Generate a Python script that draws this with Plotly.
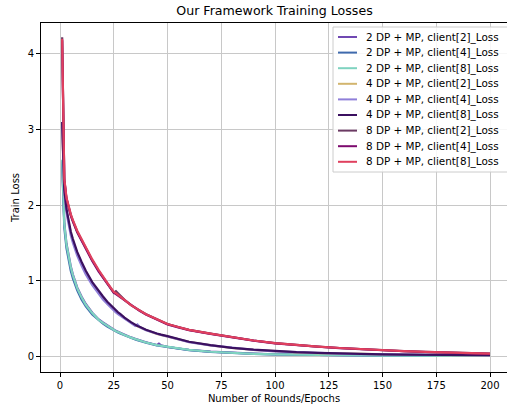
import plotly.graph_objects as go

epochs = [1, 2, 3, 4, 5, 6, 7, 8, 10, 12, 15, 18, 20, 22, 24, 25, 26, 27, 28, 30,
          33, 35, 36, 37, 40, 45, 46, 47, 50, 55, 60, 70, 80, 90, 100, 110, 120,
          130, 140, 150, 160, 170, 180, 190, 200]

series_names = [
    "2 DP + MP, client[2]_Loss", "2 DP + MP, client[4]_Loss", "2 DP + MP, client[8]_Loss",
    "4 DP + MP, client[2]_Loss", "4 DP + MP, client[4]_Loss", "4 DP + MP, client[8]_Loss",
    "8 DP + MP, client[2]_Loss", "8 DP + MP, client[4]_Loss", "8 DP + MP, client[8]_Loss",
]

colors = ["#7048b2", "#3f6aad", "#7fd3c0", "#d2b56e", "#8f7fd9",
          "#3b1060", "#6b3a63", "#7d0a6e", "#e0405e"]

dp2_c2 = [2.58, 1.76, 1.49, 1.33, 1.19, 1.08, 0.99, 0.91, 0.79, 0.69, 0.575, 0.485, 0.445, 0.405, 0.365,
          0.35, 0.335, 0.322, 0.308, 0.282, 0.248, 0.228, 0.218, 0.208, 0.183, 0.146, 0.165, 0.142, 0.122,
          0.101, 0.083, 0.059, 0.043, 0.032, 0.024, 0.019, 0.015, 0.012, 0.010, 0.008, 0.007, 0.006,
          0.005, 0.005, 0.004]
dp2_c4 = [2.55, 1.70, 1.43, 1.27, 1.13, 1.03, 0.94, 0.87, 0.75, 0.66, 0.55, 0.47, 0.43, 0.39, 0.355,
          0.34, 0.326, 0.314, 0.30, 0.275, 0.241, 0.221, 0.212, 0.202, 0.178, 0.143, 0.139, 0.136, 0.118,
          0.098, 0.080, 0.057, 0.041, 0.030, 0.022, 0.017, 0.013, 0.011, 0.009, 0.008, 0.007, 0.006,
          0.005, 0.004, 0.004]
dp2_c8 = [2.60, 1.75, 1.48, 1.32, 1.18, 1.07, 0.98, 0.90, 0.78, 0.68, 0.57, 0.48, 0.44, 0.40, 0.36,
          0.345, 0.33, 0.32, 0.305, 0.28, 0.245, 0.225, 0.215, 0.205, 0.18, 0.145, 0.141, 0.138, 0.12,
          0.10, 0.082, 0.058, 0.042, 0.031, 0.023, 0.018, 0.014, 0.011, 0.009, 0.008, 0.007, 0.006,
          0.005, 0.005, 0.004]

dp4_c2 = [3.05, 2.18, 1.93, 1.76, 1.63, 1.53, 1.44, 1.36, 1.23, 1.11, 0.96, 0.84, 0.77, 0.70, 0.64,
          0.615, 0.59, 0.565, 0.545, 0.50, 0.44, 0.405, 0.395, 0.385, 0.345, 0.295, 0.288, 0.282, 0.262,
          0.222, 0.188, 0.143, 0.108, 0.083, 0.064, 0.051, 0.041, 0.033, 0.027, 0.022, 0.019, 0.016,
          0.014, 0.012, 0.011]
dp4_c4 = [3.08, 2.16, 1.90, 1.73, 1.60, 1.50, 1.41, 1.33, 1.20, 1.08, 0.94, 0.82, 0.75, 0.69, 0.63,
          0.60, 0.58, 0.555, 0.535, 0.49, 0.435, 0.40, 0.42, 0.385, 0.342, 0.292, 0.286, 0.280, 0.260,
          0.220, 0.186, 0.142, 0.107, 0.082, 0.063, 0.050, 0.040, 0.032, 0.026, 0.022, 0.018, 0.016,
          0.014, 0.012, 0.011]
dp4_c8 = [3.10, 2.20, 1.95, 1.78, 1.65, 1.55, 1.46, 1.38, 1.25, 1.13, 0.98, 0.86, 0.79, 0.72, 0.66,
          0.63, 0.61, 0.58, 0.56, 0.51, 0.45, 0.41, 0.40, 0.39, 0.35, 0.30, 0.29, 0.285, 0.265,
          0.225, 0.19, 0.145, 0.11, 0.085, 0.065, 0.052, 0.042, 0.034, 0.028, 0.023, 0.020, 0.017,
          0.015, 0.013, 0.012]

dp8_c2 = [4.22, 2.34, 2.09, 1.97, 1.87, 1.79, 1.71, 1.65, 1.54, 1.43, 1.27, 1.13, 1.05, 0.97, 0.89,
          0.84, 0.86, 0.83, 0.80, 0.745, 0.675, 0.635, 0.62, 0.605, 0.555, 0.485, 0.475, 0.465, 0.425,
          0.385, 0.348, 0.297, 0.247, 0.207, 0.172, 0.147, 0.126, 0.108, 0.092, 0.078, 0.066, 0.056,
          0.047, 0.039, 0.032]
dp8_c4 = [4.18, 2.33, 2.08, 1.96, 1.86, 1.78, 1.70, 1.64, 1.53, 1.42, 1.26, 1.12, 1.04, 0.96, 0.88,
          0.84, 0.82, 0.80, 0.78, 0.74, 0.67, 0.63, 0.615, 0.60, 0.55, 0.48, 0.47, 0.46, 0.42,
          0.38, 0.345, 0.295, 0.245, 0.205, 0.17, 0.145, 0.124, 0.106, 0.09, 0.077, 0.065, 0.055,
          0.046, 0.038, 0.031]
dp8_c8 = [4.20, 2.35, 2.10, 1.98, 1.88, 1.80, 1.72, 1.66, 1.55, 1.44, 1.28, 1.14, 1.05, 0.97, 0.89,
          0.85, 0.835, 0.815, 0.795, 0.745, 0.675, 0.635, 0.62, 0.605, 0.555, 0.485, 0.475, 0.465, 0.425,
          0.385, 0.348, 0.297, 0.247, 0.207, 0.172, 0.147, 0.126, 0.108, 0.092, 0.078, 0.066, 0.056,
          0.047, 0.039, 0.032]

values = [dp2_c2, dp2_c4, dp2_c8, dp4_c2, dp4_c4, dp4_c8, dp8_c2, dp8_c4, dp8_c8]

W, H = 507, 411
ML, MR, MT, MB = 41, 0, 23, 39
PW, PH = W - ML - MR, H - MT - MB

def px(xp):
    return (xp - ML) / PW

def py(yp):
    return 1 - (yp - MT) / PH

FONT = "DejaVu Sans"

fig = go.Figure()
for name, col, vals in zip(series_names, colors, values):
    fig.add_trace(go.Scatter(x=epochs, y=vals, mode="lines", name=name,
                             line=dict(color=col, width=2.2), showlegend=False))

# hand-built legend box (matplotlib-like compact spacing)
shapes = []
annotations = []
LX0, LX1, LY0, LY1 = 333, 512, 27, 172
shapes.append(dict(type="rect", xref="paper", yref="paper",
                   x0=px(LX0), x1=px(LX1), y0=py(LY1), y1=py(LY0),
                   line=dict(color="#cccccc", width=1), fillcolor="rgba(255,255,255,0.85)",
                   layer="above"))
for i, (name, col) in enumerate(zip(series_names, colors)):
    yc = 37 + i * 15.6
    shapes.append(dict(type="line", xref="paper", yref="paper",
                       x0=px(338), x1=px(357), y0=py(yc), y1=py(yc),
                       line=dict(color=col, width=2), layer="above"))
    annotations.append(dict(text=name, xref="paper", yref="paper", x=px(364), y=py(yc),
                            xanchor="left", yanchor="middle", showarrow=False,
                            font=dict(family=FONT, size=10.4, color="black")))

fig.update_layout(
    width=W, height=H,
    margin=dict(l=ML, r=MR, t=MT, b=MB),
    paper_bgcolor="white", plot_bgcolor="white",
    font=dict(family=FONT, size=10, color="black"),
    title=dict(text="Our Framework Training Losses", x=(274.5 / W), xanchor="center",
               y=1 - 11 / H, yanchor="middle", font=dict(family=FONT, size=12.6)),
    showlegend=False,
    shapes=shapes,
    annotations=annotations,
    xaxis=dict(range=[-8.84, 207.9], tickvals=[0, 25, 50, 75, 100, 125, 150, 175, 200],
               automargin=False,
               showgrid=True, gridcolor="#c8c8c8", gridwidth=1, zeroline=False,
               showline=True, linecolor="black", linewidth=1, mirror=True,
               ticks="outside", ticklen=4, tickcolor="black",
               title=dict(text="Number of Rounds/Epochs", standoff=4,
                          font=dict(family=FONT, size=10))),
    yaxis=dict(range=[-0.21, 4.41], tickvals=[0, 1, 2, 3, 4],
               automargin=False,
               showgrid=True, gridcolor="#c8c8c8", gridwidth=1, zeroline=False,
               showline=True, linecolor="black", linewidth=1, mirror=False,
               ticks="outside", ticklen=4, tickcolor="black",
               title=dict(text="Train Loss", standoff=6, font=dict(family=FONT, size=10))),
)

fig.write_html("out.html", config={"displayModeBar": False},
               post_script="document.body.style.margin='0';document.body.style.overflow='hidden';")
